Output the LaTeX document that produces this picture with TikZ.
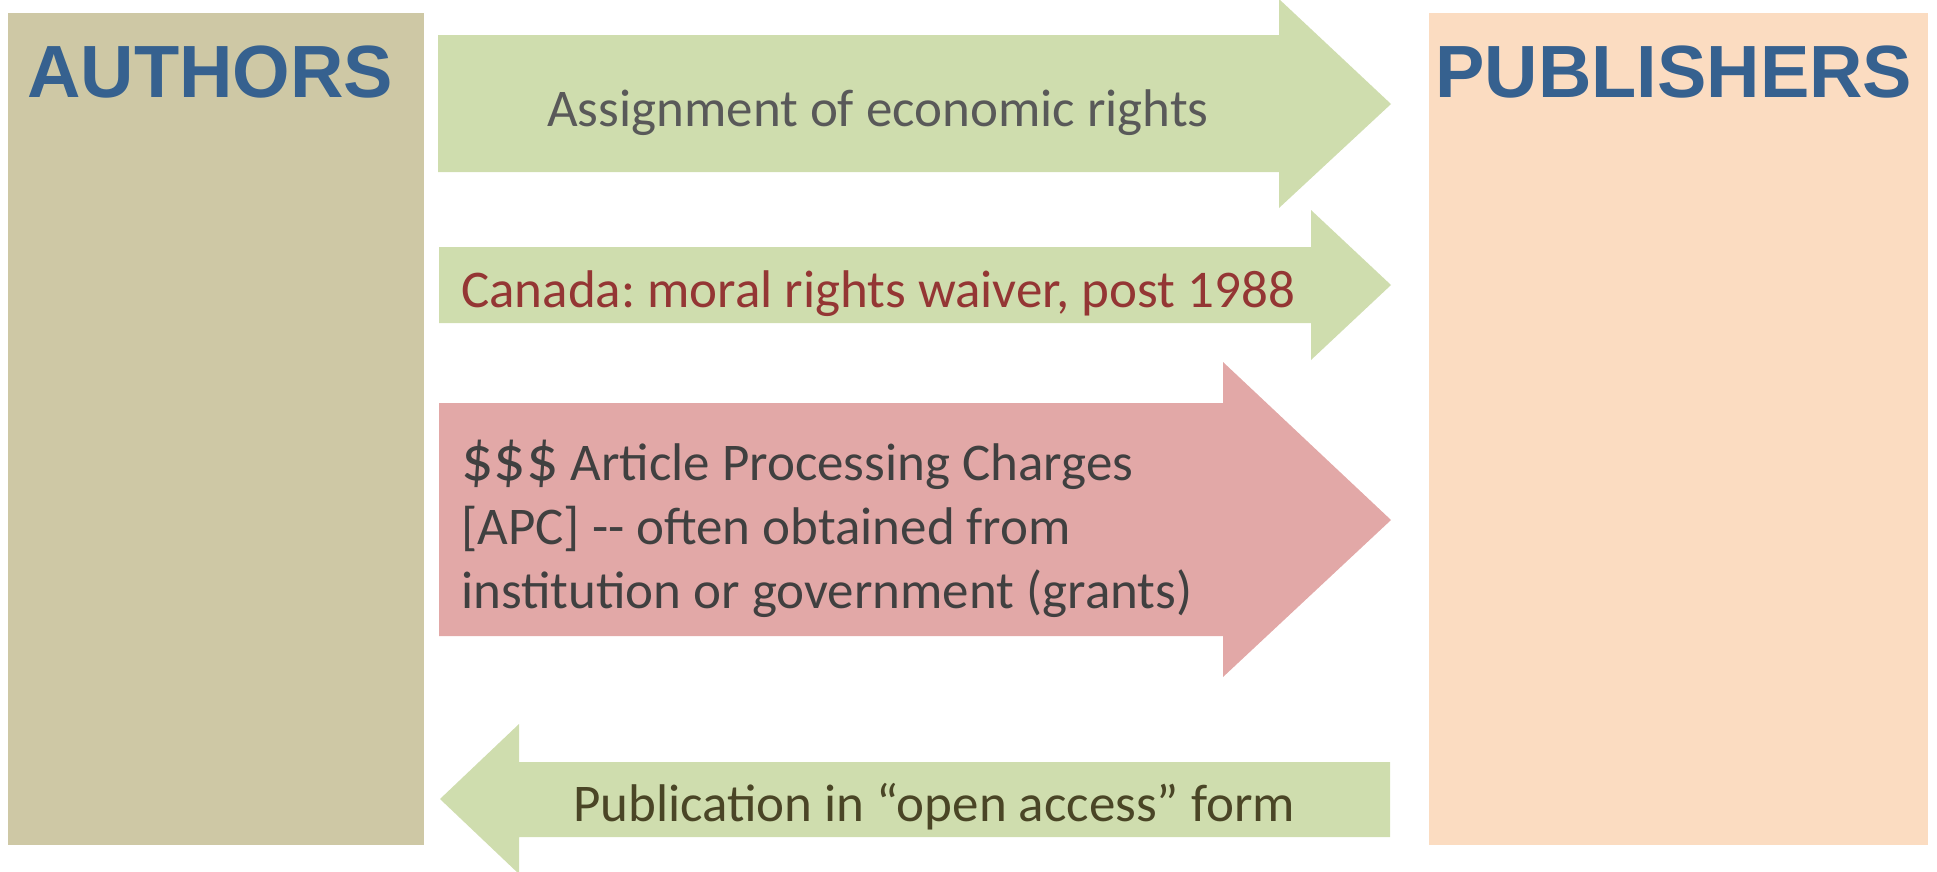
\documentclass[tikz,border=0pt]{standalone}
\usepackage{fontspec}
\setmainfont{Carlito}
\newfontfamily\headfont{Liberation Sans}
\usepackage{tikz}
\usetikzlibrary{calc,positioning}
\frenchspacing
\definecolor{authtan}{HTML}{CEC8A5}
\definecolor{pubpeach}{HTML}{FBDCC1}
\definecolor{arrgreen}{HTML}{CFDDAE}
\definecolor{arrpink}{HTML}{E2A8A7}
\definecolor{headblue}{HTML}{36618F}
\definecolor{txtgrey}{HTML}{595959}
\definecolor{txtred}{HTML}{943634}
\definecolor{txtdark}{HTML}{404040}
\definecolor{txtolive}{HTML}{4A4526}

\begin{document}
\begin{tikzpicture}[x=1pt,y=-1pt,
  head/.style={font=\headfont\bfseries\fontsize{74}{80}\selectfont,text=headblue,inner sep=0pt,anchor=base west},
  lbl/.style={font=\fontsize{53}{64}\selectfont,inner sep=0pt,anchor=base west,align=left}]
\useasboundingbox (0,0) rectangle (1937,871);
\coordinate (AU) at (8,13);
\coordinate (PU) at (1429,13);
\fill[authtan] (AU) rectangle ++(416,832);
\fill[pubpeach] (PU) rectangle ++(499,832);
\node[head] (authors) at (27,97) {AUTHORS};
\node[head] (publishers) at (1435,97) {PUBLISHERS};
\fill[arrgreen] (438,35) -- (1279,35) -- (1279,-1) -- (1391,104) -- (1279,208) -- (1279,172) -- (438,172) -- cycle;
\fill[arrgreen] (439,247) -- (1311,247) -- (1311,210) -- (1391,285) -- (1311,360) -- (1311,323) -- (439,323) -- cycle;
\fill[arrpink] (439,403) -- (1223,403) -- (1223,362) -- (1391,520) -- (1223,677) -- (1223,636) -- (439,636) -- cycle;
\fill[arrgreen] (1390,762) -- (519,762) -- (519,724) -- (440,799) -- (519,874) -- (519,837) -- (1390,837) -- cycle;
\node[lbl,text=txtgrey] (rights) at (547,126) {Assignment of economic rights};
\node[lbl,text=txtred] (waiver) at (461,307) {Canada: moral rights waiver, post 1988};
\node[lbl,text=txtdark] (apc) at (461,608) {{\fontsize{64}{64}\selectfont\$\$\$} Article Processing Charges\\\relax [APC] -{}- often obtained from\\institution or government (grants)};
\node[lbl,text=txtolive] (openacc) at (573,821) {Publication in “open access” form};
\end{tikzpicture}
\end{document}
